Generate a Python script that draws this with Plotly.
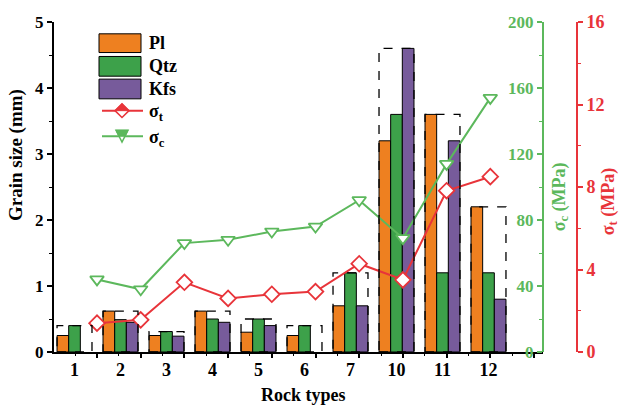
import plotly.graph_objects as go

rock_types = ["1", "2", "3", "4", "5", "6", "7", "10", "11", "12"]
pl = [0.25, 0.62, 0.25, 0.62, 0.30, 0.25, 0.70, 3.2, 3.6, 2.2]
qtz = [0.40, 0.49, 0.31, 0.50, 0.50, 0.40, 1.20, 3.6, 1.2, 1.2]
kfs = [None, 0.45, 0.24, 0.45, 0.40, None, 0.70, 4.6, 3.2, 0.8]
sigma_t = [1.40, 1.56, 3.38, 2.60, 2.80, 2.93, 4.28, 3.50, 7.82, 8.50]
sigma_c = [44, 38, 66, 68, 73, 76, 92, 69, 114, 154]

FONT = "Liberation Serif"
C_PL, C_QTZ, C_KFS = "#EE8020", "#3DA14A", "#775B9B"
C_RED, C_GREEN = "#E8343A", "#5CB85C"

W, H = 622, 410
L, R, T, B = 54, 40, 17, 58
pw = W - L - R
ph = H - T - B
dom_r = (543 - L) / pw


def px_x(x):
    return (x - L) / pw


def px_y(y):
    return 1 - (y - T) / ph


idx = list(range(len(rock_types)))

fig = go.Figure()
for name, vals, col in [("Pl", pl, C_PL), ("Qtz", qtz, C_QTZ), ("Kfs", kfs, C_KFS)]:
    fig.add_trace(go.Bar(x=idx, y=vals, name=name, showlegend=False,
                         marker=dict(color=col, line=dict(color="black", width=1)),
                         xaxis="x", yaxis="y"))

fig.add_trace(go.Scatter(x=idx, y=sigma_c, name="σc", mode="lines+markers", showlegend=False,
                         line=dict(color=C_GREEN, width=2),
                         marker=dict(symbol="triangle-down", size=12, color="white", line=dict(color=C_GREEN, width=1.8)),
                         xaxis="x2", yaxis="y2"))
fig.add_trace(go.Scatter(x=idx, y=sigma_t, name="σt", mode="lines+markers", showlegend=False,
                         line=dict(color=C_RED, width=2),
                         marker=dict(symbol="diamond", size=12, color="white", line=dict(color=C_RED, width=1.8)),
                         xaxis="x2", yaxis="y3"))

# dashed boxes around each group (group maximum)
for i in idx:
    m = max(v for v in (pl[i], qtz[i], kfs[i]) if v is not None)
    fig.add_shape(type="rect", xref="x", yref="y", x0=i - 0.38, x1=i + 0.38, y0=0, y1=m,
                  line=dict(color="black", width=1.3, dash="dash"), layer="above")

fig.update_layout(
    width=W, height=H, margin=dict(l=L, r=R, t=T, b=B),
    paper_bgcolor="white", plot_bgcolor="white",
    font=dict(family=FONT, size=16, color="black", weight="bold"),
    barmode="group", bargap=0.24, bargroupgap=0,
    showlegend=False,
    xaxis=dict(domain=[0, dom_r], range=[-0.446, 10.185], tickmode="array", tickvals=idx, ticktext=rock_types,
               showline=True, linecolor="black", linewidth=2, ticks="", showgrid=False, zeroline=False,
               tickfont=dict(size=18), anchor="y"),
    xaxis2=dict(domain=[0, dom_r], range=[-0.984, 10.206], overlaying="x", anchor="y", side="bottom",
                tickmode="linear", tick0=0, dtick=1, ticks="outside", ticklen=5, tickwidth=1.5, tickcolor="black",
                showticklabels=False, showline=False, showgrid=False, zeroline=False,
                minor=dict(ticks="outside", ticklen=3, tickwidth=1.2, tickcolor="black", dtick=0.5, tick0=0)),
    yaxis=dict(range=[0, 5], dtick=1, showline=True, linecolor="black", linewidth=2, ticks="outside",
               ticklen=5, tickwidth=1.5, tickcolor="black", showgrid=False, zeroline=False,
               minor=dict(ticks="outside", ticklen=3, tickwidth=1.2, dtick=0.5, tickcolor="black"),
               tickfont=dict(size=17), anchor="x"),
    yaxis2=dict(range=[0, 200], dtick=40, overlaying="y", side="left", anchor="free", position=dom_r,
                showline=True, linecolor=C_GREEN, linewidth=2, ticks="outside", ticklen=5, tickwidth=1.5,
                tickcolor=C_GREEN, showgrid=False, zeroline=False,
                minor=dict(ticks="outside", ticklen=3, tickwidth=1.2, dtick=20, tickcolor=C_GREEN),
                tickfont=dict(size=17, color=C_GREEN)),
    yaxis3=dict(range=[0, 16], dtick=4, overlaying="y", side="right", anchor="free",
                position=(577 - L) / pw,
                showline=True, linecolor=C_RED, linewidth=2, ticks="outside", ticklen=5, tickwidth=1.5,
                tickcolor=C_RED, showgrid=False, zeroline=False,
                minor=dict(ticks="outside", ticklen=3, tickwidth=1.2, dtick=2, tickcolor=C_RED),
                tickfont=dict(size=18, color=C_RED)),
)

# axis titles
ann = [
    dict(text="Grain size (mm)", x=px_x(16), y=px_y(152), textangle=-90, color="black", size=19),
    dict(text="Rock types", x=px_x(303), y=px_y(396), textangle=0, color="black", size=18),
    dict(text="σ<sub>c</sub> (MPa)", x=px_x(560), y=px_y(195), textangle=-90, color=C_GREEN, size=18),
    dict(text="σ<sub>t</sub> (MPa)", x=px_x(609), y=px_y(200), textangle=-90, color=C_RED, size=18),
]
for a in ann:
    fig.add_annotation(text=a["text"], x=a["x"], y=a["y"], xref="paper", yref="paper",
                       xanchor="center", yanchor="middle", textangle=a["textangle"], showarrow=False,
                       font=dict(family=FONT, size=a["size"], color=a["color"], weight="bold"))

# manual legend
leg_x0, leg_x1, leg_tx = 99, 141, 147
for label, col, (y0, y1) in [("Pl", C_PL, (29, 48)), ("Qtz", C_QTZ, (52, 72)), ("Kfs", C_KFS, (75, 95))]:
    fig.add_shape(type="rect", xref="paper", yref="paper", x0=px_x(leg_x0), x1=px_x(leg_x1),
                  y0=px_y(y1), y1=px_y(y0), fillcolor=col, line=dict(color="black", width=1))
    fig.add_annotation(text=label, x=px_x(leg_tx), y=px_y((y0 + y1) / 2), xref="paper", yref="paper",
                       xanchor="left", yanchor="middle", showarrow=False,
                       font=dict(family=FONT, size=18, color="black", weight="bold"))

cx = 122
# sigma_t legend item
yt = 107
fig.add_shape(type="line", xref="paper", yref="paper", x0=px_x(102), x1=px_x(143), y0=px_y(yt), y1=px_y(yt),
              line=dict(color=C_RED, width=2))
d = 7
fig.add_shape(type="path", xref="paper", yref="paper",
              path=f"M{px_x(cx)},{px_y(yt-d)} L{px_x(cx+d)},{px_y(yt)} L{px_x(cx)},{px_y(yt+d)} L{px_x(cx-d)},{px_y(yt)} Z",
              fillcolor="white", line=dict(color=C_RED, width=1.5))
fig.add_shape(type="path", xref="paper", yref="paper",
              path=f"M{px_x(cx)},{px_y(yt-d)} L{px_x(cx+d)},{px_y(yt)} L{px_x(cx-d)},{px_y(yt)} Z",
              fillcolor=C_RED, line=dict(color=C_RED, width=1))
fig.add_annotation(text="σ<sub>t</sub>", x=px_x(leg_tx), y=px_y(yt + 2), xref="paper", yref="paper",
                   xanchor="left", yanchor="middle", showarrow=False,
                   font=dict(family=FONT, size=18, color="black", weight="bold"))

# sigma_c legend item
yc = 133
fig.add_shape(type="line", xref="paper", yref="paper", x0=px_x(102), x1=px_x(143), y0=px_y(yc), y1=px_y(yc),
              line=dict(color=C_GREEN, width=2))
s = 6
fig.add_shape(type="path", xref="paper", yref="paper",
              path=f"M{px_x(cx-s)},{px_y(yc-s)} L{px_x(cx+s)},{px_y(yc-s)} L{px_x(cx)},{px_y(yc+s)} Z",
              fillcolor="white", line=dict(color=C_GREEN, width=1.5))
fig.add_shape(type="path", xref="paper", yref="paper",
              path=f"M{px_x(cx-s)},{px_y(yc-s)} L{px_x(cx+s)},{px_y(yc-s)} L{px_x(cx+s*0.5)},{px_y(yc-s+6)} L{px_x(cx-s*0.5)},{px_y(yc-s+6)} Z",
              fillcolor=C_GREEN, line=dict(color=C_GREEN, width=1))
fig.add_annotation(text="σ<sub>c</sub>", x=px_x(leg_tx), y=px_y(yc + 2), xref="paper", yref="paper",
                   xanchor="left", yanchor="middle", showarrow=False,
                   font=dict(family=FONT, size=18, color="black", weight="bold"))

fig.write_html("out.html")
